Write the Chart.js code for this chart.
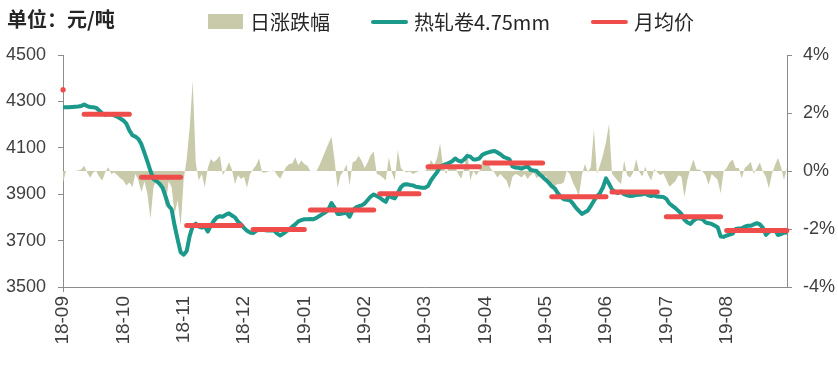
<!DOCTYPE html>
<html>
<head>
<meta charset="utf-8">
<script src="https://cdn.jsdelivr.net/npm/chart.js@4.4.1/dist/chart.umd.min.js"></script>
<style>
  html, body { margin: 0; padding: 0; background: #fff; }
  #wrap { width: 838px; height: 373px; }
</style>
</head>
<body>
<div id="wrap"><canvas id="hrc" width="838" height="373"></canvas></div>
<script>
// unit title + legend names
const unitTitle = '单位：元/吨';
const seriesNames = ['日涨跌幅', '热轧卷4.75mm', '月均价'];

// x axis: one category per trading day, a month label every 20 days
const tickLabels = ['18-09','18-10','18-11','18-12','19-01','19-02','19-03','19-04','19-05','19-06','19-07','19-08'];
const tickEvery = 20;
const dayCount = 241;

// 热轧卷4.75mm close, 元/吨
const price = [
  4275,4275,4275,4276,4277,4278,4280,4287,4280,4276,
  4275,4272,4261,4248,4242,4246,4244,4240,4234,4226,
  4218,4204,4175,4154,4148,4138,4115,4078,4040,4000,
  3965,3956,3945,3928,3890,3850,3835,3765,3705,3650,
  3639,3655,3720,3762,3773,3760,3756,3762,3739,3765,
  3785,3800,3805,3803,3812,3818,3808,3800,3782,3770,
  3755,3742,3735,3732,3742,3748,3748,3745,3743,3744,
  3743,3730,3722,3730,3740,3748,3760,3770,3783,3788,
  3792,3792,3793,3792,3798,3806,3814,3822,3835,3862,
  3842,3815,3815,3818,3820,3803,3830,3842,3848,3852,
  3860,3875,3890,3899,3892,3885,3875,3867,3895,3886,
  3882,3905,3930,3942,3943,3940,3938,3932,3930,3928,
  3928,3935,3960,3978,3995,4018,4025,4030,4035,4042,
  4054,4045,4040,4050,4065,4062,4050,4050,4054,4070,
  4076,4080,4084,4086,4080,4072,4061,4056,4050,4020,
  4015,4014,4010,4016,4020,4005,4002,4000,3985,3975,
  3962,3950,3935,3925,3905,3890,3878,3876,3874,3860,
  3842,3828,3815,3822,3830,3850,3872,3892,3905,3930,
  3968,3945,3920,3910,3905,3912,3900,3895,3892,3893,
  3897,3898,3899,3903,3895,3892,3895,3890,3889,3888,
  3880,3860,3850,3840,3828,3815,3790,3778,3772,3786,
  3795,3795,3792,3778,3775,3772,3765,3758,3718,3716,
  3722,3726,3730,3750,3752,3753,3760,3764,3764,3770,
  3775,3770,3755,3725,3738,3742,3746,3724,3728,3734,
  3735
];

// 日涨跌幅, %
const dailyChg = [
  -0.4,0,0,0,0,0.02,0.05,0.18,-0.05,-0.23,
  -0.05,0,-0.2,-0.33,-0.05,0.13,-0.1,-0.05,-0.15,-0.25,
  -0.33,-0.5,-0.4,-0.55,-0.1,-0.33,-0.72,-0.35,-0.8,-1.65,
  -0.55,-0.3,-0.4,-0.55,-1.25,-0.35,-0.55,-1.48,-1.0,-1.9,
  -0.3,0.41,1.5,3.1,0.3,-0.33,-0.1,-0.56,0.1,0.41,
  0.3,0.4,0.53,-0.15,0.05,0.3,0.05,-0.45,-0.15,-0.28,
  -0.2,-0.58,-0.1,0.05,0.2,0.43,-0.05,-0.05,-0.02,0,
  0.02,-0.15,-0.27,-0.05,0.15,0.24,0.26,0.47,0.2,0.36,
  0.24,0.18,0,0,0,0.2,0.45,0.7,0.95,1.18,
  0.4,-0.58,-0.15,0,0.22,-0.5,0.3,0.35,0.53,0.35,
  0.1,0.3,0.55,0.66,-0.1,-0.15,-0.22,-0.33,0.47,-0.05,
  -0.33,0.72,0.1,0,-0.05,-0.02,-0.1,-0.05,0,0,
  0,0.1,0.38,0.2,0.45,0.95,0.15,-0.1,0.12,0.2,
  0.15,-0.1,-0.27,0.1,0.7,-0.33,0,-0.15,0,0.36,
  0.4,0.25,0.05,-0.05,-0.22,-0.1,-0.22,-0.33,-0.62,-0.2,
  -0.1,-0.15,-0.22,-0.1,-0.28,-0.15,-0.05,-0.25,-0.15,-0.33,
  -0.15,-0.4,-0.62,-0.5,-0.45,-0.45,-0.4,0,-0.1,-0.4,
  -0.6,-0.88,-0.15,0.24,-0.05,0.15,1.44,-0.1,0.2,0.55,
  1.0,1.62,-0.1,-0.22,-0.35,-0.45,0.36,-0.15,-0.22,-0.05,
  0.41,-0.02,-0.2,0.15,-0.15,-0.33,0.07,-0.05,-0.15,-0.08,
  -0.3,-0.54,-0.45,-0.35,-0.15,-0.2,-0.9,-0.3,0.1,0.4,
  0.05,0.05,-0.02,-0.15,-0.48,-0.1,-0.2,-0.3,-0.77,-0.02,
  0.1,0.3,0.4,0.1,0.1,-0.25,0.1,0.2,0.32,-0.1,
  0.1,0.29,-0.02,-0.2,-0.6,-0.1,0.2,0.46,0.15,-0.31,
  0.1
];

// 月均价 (Aug-18 .. Aug-19) and the trading days each one is drawn over
const monthAvg   = [4350, 4245, 3973, 3765, 3748, 3832, 3902, 4018, 4035, 3889, 3910, 3803, 3743];
const monthFirst = [0, 7, 26, 41, 63, 82, 105, 121, 140, 162, 182, 200, 220];
const monthLast  = [0, 22, 39, 59, 80, 103, 118, 138, 159, 180, 197, 218, 240];

const categories = [];
for (let i = 0; i < dayCount; i++) {
  categories.push(i % tickEvery === 0 && tickLabels[i / tickEvery] ? tickLabels[i / tickEvery] : '');
}

const monthLine = new Array(dayCount).fill(null);
monthAvg.forEach((v, m) => {
  for (let i = monthFirst[m]; i <= monthLast[m]; i++) monthLine[i] = v;
});

const olive = '#c9caaa';
const teal = '#1b998b';
const red = '#ee4d4b';
const axisGrey = '#8c8c8c';
const textColor = '#404040';

// title and legend on one row, like the original
const headerRow = {
  id: 'headerRow',
  afterDraw(chart) {
    const ctx = chart.ctx;
    ctx.save();
    ctx.textBaseline = 'middle';
    ctx.fillStyle = '#262626';
    ctx.font = 'bold 20px "Noto Sans CJK SC"';
    ctx.fillText(unitTitle, 7, 19);

    ctx.font = '20px "Noto Sans CJK SC"';
    let x = 208;
    const y = 22;
    chart.data.datasets.forEach((ds, i) => {
      if (i === 0) {
        ctx.fillStyle = ds.backgroundColor;
        ctx.fillRect(x, y - 8, 35, 15);
      } else {
        ctx.strokeStyle = ds.borderColor;
        ctx.lineWidth = 4;
        ctx.lineCap = 'round';
        ctx.beginPath();
        ctx.moveTo(x + 1, y);
        ctx.lineTo(x + 34, y);
        ctx.stroke();
      }
      ctx.fillStyle = '#262626';
      ctx.fillText(ds.label, x + 42, y);
      x += 42 + ctx.measureText(ds.label).width + 42;
    });
    ctx.restore();
  }
};

const tickFont = { family: '"Liberation Sans", Arial, sans-serif', size: 18 };

new Chart(document.getElementById('hrc').getContext('2d'), {
  type: 'line',
  data: {
    labels: categories,
    datasets: [{
      label: seriesNames[0],
      data: dailyChg,
      yAxisID: 'y1',
      fill: 'origin',
      backgroundColor: olive,
      borderColor: 'rgba(0,0,0,0)',
      borderWidth: 0,
      pointRadius: 0,
      tension: 0,
      order: 3
    }, {
      label: seriesNames[1],
      data: price,
      yAxisID: 'y',
      borderColor: teal,
      backgroundColor: teal,
      borderWidth: 4,
      borderJoinStyle: 'round',
      pointRadius: 0,
      tension: 0,
      order: 2
    }, {
      label: seriesNames[2],
      data: monthLine,
      yAxisID: 'y',
      borderColor: red,
      backgroundColor: red,
      borderWidth: 5,
      borderCapStyle: 'round',
      spanGaps: false,
      pointRadius: (c) => {
        const d = c.dataset.data, i = c.dataIndex;
        return d[i] != null && d[i - 1] == null && d[i + 1] == null ? 2.6 : 0;
      },
      pointBorderWidth: 0,
      pointHoverRadius: 0,
      tension: 0,
      order: 1
    }]
  },
  options: {
    responsive: false,
    animation: false,
    devicePixelRatio: 1,
    layout: { padding: { top: 55, left: 0, right: 0, bottom: 0 } },
    plugins: {
      legend: { display: false },
      tooltip: { enabled: false }
    },
    scales: {
      x: {
        offset: false,
        border: { display: true, color: axisGrey, width: 1 },
        grid: {
          drawOnChartArea: false,
          drawTicks: true,
          tickLength: 5,
          color: (c) => (c.index % tickEvery === 0 ? axisGrey : 'rgba(0,0,0,0)'),
          tickColor: (c) => (c.index % tickEvery === 0 ? axisGrey : 'rgba(0,0,0,0)')
        },
        ticks: {
          autoSkip: false,
          maxRotation: 90,
          minRotation: 90,
          padding: 4,
          color: textColor,
          font: { family: '"Liberation Sans", Arial, sans-serif', size: 19 },
          callback: function (value, index) {
            return categories[index] ? categories[index] : null;
          }
        },
        afterFit: (s) => { s.height = 86; }
      },
      y: {
        position: 'left',
        min: 3500,
        max: 4500,
        border: { display: true, color: axisGrey, width: 1 },
        grid: { drawOnChartArea: false, tickLength: 5, color: axisGrey },
        ticks: {
          stepSize: 200,
          padding: 12,
          color: textColor,
          font: tickFont,
          callback: (v) => String(v)
        },
        afterFit: (s) => { s.width = 63; }
      },
      y1: {
        position: 'right',
        min: -4,
        max: 4,
        border: { display: true, color: axisGrey, width: 1 },
        grid: { drawOnChartArea: false, tickLength: 5, color: axisGrey },
        ticks: {
          stepSize: 2,
          padding: 11,
          color: textColor,
          font: tickFont,
          callback: (v) => v + '%'
        },
        afterFit: (s) => { s.width = 51; }
      }
    }
  },
  plugins: [headerRow]
});
</script>
</body>
</html>
